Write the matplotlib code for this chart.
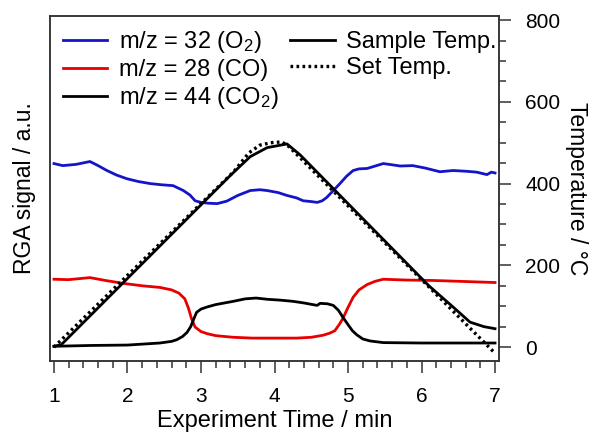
import matplotlib
matplotlib.use("Agg")
import matplotlib.pyplot as plt
from matplotlib.lines import Line2D

# ---- data ----
o2_t = [1.0, 1.12, 1.3, 1.49, 1.6, 1.72, 1.85, 1.99, 2.15, 2.31, 2.47, 2.62, 2.76, 2.85, 2.92,
        3.0, 3.1, 3.22, 3.35, 3.5, 3.67, 3.8, 3.9, 4.05, 4.17, 4.3, 4.39, 4.5, 4.58, 4.65, 4.71,
        4.8, 4.89, 4.98, 5.07, 5.15, 5.26, 5.37, 5.48, 5.6, 5.71, 5.88, 6.05, 6.25, 6.43, 6.62,
        6.75, 6.89, 6.95, 7.0]
o2_v = [449, 444, 447, 454, 444, 432, 421, 412, 405, 400, 397, 395, 383, 372, 358,
        354, 352, 351, 357, 371, 383, 385, 383, 378, 371, 365, 358, 356, 354, 358, 366,
        383, 400, 418, 432, 436, 437, 443, 449, 446, 443, 444, 438, 429, 432, 430,
        428, 422, 428, 426]

co_t = [1.0, 1.2, 1.49, 1.7, 1.94, 2.2, 2.44, 2.6, 2.7, 2.78, 2.83, 2.87, 2.92, 3.0, 3.08,
        3.2, 3.44, 3.7, 4.0, 4.3, 4.5, 4.66, 4.75, 4.82, 4.88, 4.93, 5.0, 5.07, 5.15, 5.26,
        5.37, 5.48, 5.8, 6.16, 6.5, 7.0]
co_v = [166, 165, 170, 163, 156, 150, 146, 140, 132, 118, 95, 70, 49, 38, 33,
        28, 24, 22, 22, 22, 24, 29, 34, 40, 55, 70, 97, 122, 140, 153,
        161, 166, 164, 163, 161, 158]

co2_t = [1.0, 1.5, 2.0, 2.44, 2.6, 2.67, 2.75, 2.81, 2.86, 2.9, 2.94, 3.0, 3.08, 3.2, 3.44,
         3.6, 3.75, 3.9, 4.07, 4.25, 4.4, 4.58, 4.62, 4.72, 4.8, 4.87, 4.93, 5.0, 5.06, 5.12,
         5.2, 5.3, 5.48, 6.0, 6.5, 7.0]
co2_v = [2, 4, 5, 10, 14, 18, 26, 36, 50, 68, 85, 93, 98, 104, 112,
         118, 120, 117, 115, 112, 108, 102, 107, 106, 102, 90, 73, 55, 40, 30,
         20, 15, 11, 10, 10, 10]

samp_t = [1.0, 1.1, 3.4, 3.67, 3.9, 4.17, 4.35, 6.1, 6.43, 6.66, 6.85, 7.0]
samp_v = [2, 6, 420, 466, 488, 497, 470, 150, 98, 61, 50, 45]

set_t = [1.0, 3.45, 3.65, 3.8, 3.95, 4.1, 4.2, 7.0]
set_v = [0, 430, 475, 494, 500, 502, 490, -15]

xticks = [1, 2, 3, 4, 5, 6, 7]
temp_ticks = [0, 200, 400, 600, 800]

# ---- figure ----
plt.rcParams['font.family'] = ['Liberation Sans', 'DejaVu Sans']
plt.rcParams['mathtext.fontset'] = 'custom'
plt.rcParams['mathtext.rm'] = 'Liberation Sans'
plt.rcParams['mathtext.it'] = 'Liberation Sans:italic'
plt.rcParams['mathtext.bf'] = 'Liberation Sans:bold'
fig = plt.figure(figsize=(5.92, 4.33), dpi=100)
ax = fig.add_axes([50/592, 1-361/433, (499-50)/592, (361-16)/433])
ax2 = ax.twinx()

blue = '#1414c8'
red = '#e80000'
lw = 2.0
ax.plot(o2_t, o2_v, color=blue, lw=lw)
ax.plot(co_t, co_v, color=red, lw=lw)
ax.plot(co2_t, co2_v, color='black', lw=lw)

dot = (0, (0.8, 1.0))
ax2.plot(samp_t, samp_v, color='black', lw=lw)
ax2.plot(set_t, set_v, color='black', lw=2.4, linestyle=dot)

xl = (0.946, 7.054)
yl = (-34, 810)
ax.set_xlim(*xl)
ax.set_ylim(*yl)
ax2.set_ylim(*yl)

spc = '#333333'
for a in (ax, ax2):
    for s in a.spines.values():
        s.set_color(spc)
        s.set_linewidth(1.1)

ax.set_yticks([])
ax.set_xticks(xticks)
ax.set_xticks([1 + 0.2*i for i in range(31)], minor=True)
ax.tick_params(axis='x', which='major', direction='out', length=8.5, width=1.1,
               color=spc, pad=10, labelsize=15)
ax.tick_params(axis='x', which='minor', direction='out', length=5, width=1.1, color=spc)

ax2.set_yticks(temp_ticks)
ax2.set_yticks(list(range(0, 801, 50)), minor=True)
ax2.tick_params(axis='y', which='major', direction='out', length=8.5, width=1.1,
                color=spc, pad=10.5, labelsize=15)
ax2.tick_params(axis='y', which='minor', direction='out', length=5, width=1.1, color=spc)

ax.set_xlabel('Experiment Time / min', fontsize=17, labelpad=3)
ax.set_ylabel('RGA signal / a.u.', fontsize=16.5, labelpad=10)
ax2.set_ylabel('Temperature / °C', fontsize=16.5, rotation=270, labelpad=20)

handles = [
    Line2D([], [], color=blue, lw=lw),
    Line2D([], [], color=red, lw=lw),
    Line2D([], [], color='black', lw=lw),
    Line2D([], [], color='black', lw=lw),
    Line2D([], [], color='black', lw=2.4, linestyle=dot),
]
labels = ['m/z = 32 (O$_2$)', 'm/z = 28 (CO)', 'm/z = 44 (CO$_2$)',
          'Sample Temp.', 'Set Temp.']
leg = ax2.legend(handles, labels, ncol=2, loc='upper left', frameon=False,
                 fontsize=17, handlelength=1.87, handletextpad=0.5,
                 columnspacing=0.5, labelspacing=0.18,
                 bbox_to_anchor=(0.0, 1.0), borderaxespad=0.15)

fig.savefig('out.png', dpi=100)
